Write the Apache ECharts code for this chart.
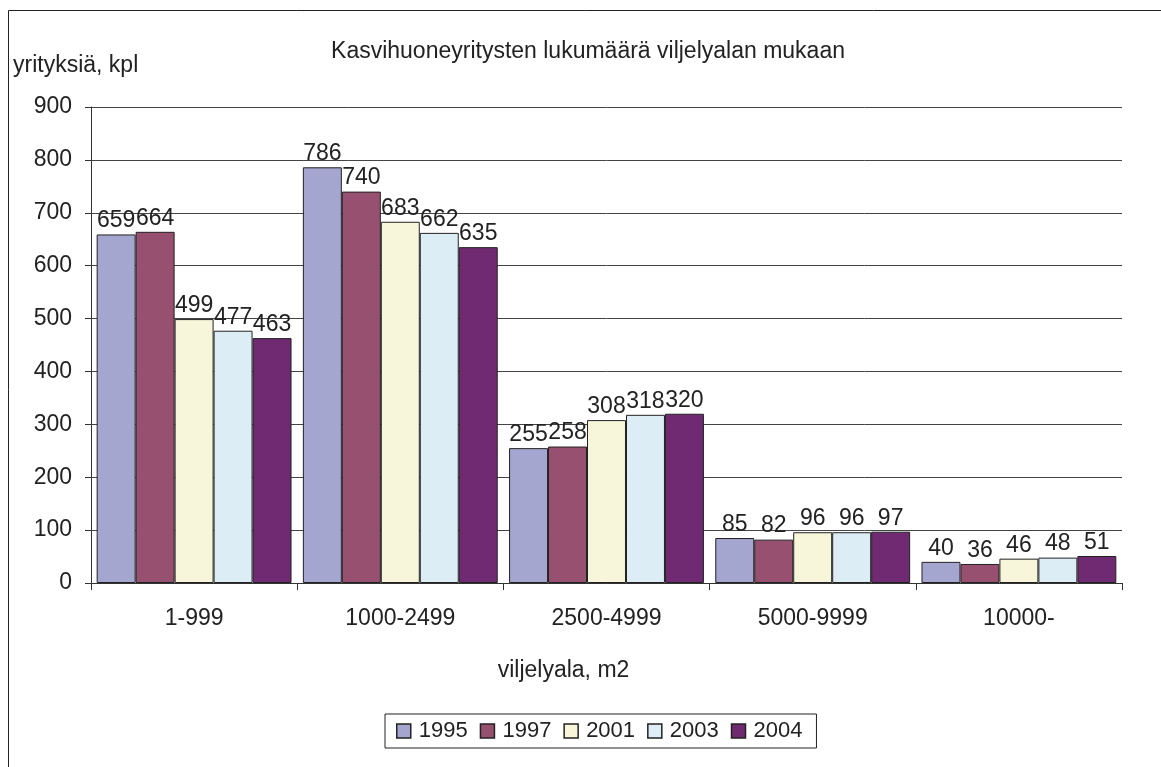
<!DOCTYPE html>
<html>
<head>
<meta charset="utf-8">
<script src="https://cdn.jsdelivr.net/npm/echarts@6/dist/echarts.min.js"></script>
<style>
  html, body { margin: 0; padding: 0; background: #fff; }
  #chart { width: 1161px; height: 767px; }
</style>
</head>
<body>
<div id="chart"></div>
<script>
// 分类
const categories = ['1-999', '1000-2499', '2500-4999', '5000-9999', '10000-']
// 图例
const years = ['1995', '1997', '2001', '2003', '2004']
// 数据集，顺序同图例
const values1995 = [659, 786, 255, 85, 40]
const values1997 = [664, 740, 258, 82, 36]
const values2001 = [499, 683, 308, 96, 46]
const values2003 = [477, 662, 318, 96, 48]
const values2004 = [463, 635, 320, 97, 51]
const colors = ['#a5a6cf', '#985070', '#f7f6da', '#dcedf5', '#6f2a71']

const font = 'Liberation Sans, Arial, sans-serif'
const fs = 23
const myChart = echarts.init(document.getElementById('chart'))

const series = [values1995, values1997, values2001, values2003, values2004].map((data, index) => ({
  name: years[index],
  type: 'bar',
  barGap: 0,
  barCategoryGap: '5.5%',
  itemStyle: { color: colors[index], borderColor: '#222', borderWidth: 1 },
  label: {
    show: true,
    position: 'top',
    distance: 2,
    color: '#222',
    fontFamily: font,
    fontSize: fs
  },
  data
}))

const option = {
  animation: false,
  color: colors,
  textStyle: { fontFamily: font },
  title: {
    text: 'Kasvihuoneyritysten lukumäärä viljelyalan mukaan',
    left: 583,
    top: 35,
    textAlign: 'center',
    textStyle: { fontFamily: font, fontSize: fs, fontWeight: 'normal', color: '#222' }
  },
  legend: {
    data: years,
    left: 385,
    top: 714,
    width: 430,
    padding: [6, 14, 6, 11],
    borderColor: '#222',
    borderWidth: 1,
    itemWidth: 14,
    itemHeight: 14,
    itemGap: 12,
    icon: 'rect',
    itemStyle: { borderColor: '#222', borderWidth: 1.5 },
    textStyle: { fontFamily: font, fontSize: 22, color: '#222', padding: [0, 0, 0, 3] }
  },
  grid: {
    left: 91,
    right: 39,
    top: 107,
    bottom: 184
  },
  xAxis: {
    type: 'category',
    data: categories,
    name: 'viljelyala, m2',
    nameLocation: 'middle',
    nameGap: 76,
    nameTextStyle: { fontFamily: font, fontSize: fs, color: '#222', padding: [0, 86, 0, 0] },
    axisLine: { lineStyle: { color: '#333' } },
    axisTick: { show: true, length: 7, lineStyle: { color: '#333' } },
    axisLabel: { margin: 24, fontFamily: font, fontSize: fs, color: '#222' }
  },
  yAxis: {
    type: 'value',
    min: 0,
    max: 900,
    interval: 100,
    name: 'yrityksiä, kpl',
    nameLocation: 'end',
    nameGap: 0,
    nameTextStyle: { fontFamily: font, fontSize: fs, color: '#222', align: 'left', padding: [0, 0, 30, -78] },
    axisLine: { show: true, lineStyle: { color: '#333' } },
    axisTick: { show: true, length: 6, lineStyle: { color: '#333' } },
    axisLabel: { margin: 19, fontFamily: font, fontSize: fs, color: '#222' },
    splitLine: { lineStyle: { color: '#444', width: 1 } }
  },
  graphic: [
    {
      type: 'rect',
      shape: { x: 8.5, y: 10.5, width: 1170, height: 780 },
      style: { fill: 'none', stroke: '#222', lineWidth: 1 },
      silent: true
    }
  ],
  series
}

myChart.setOption(option)
</script>
</body>
</html>
